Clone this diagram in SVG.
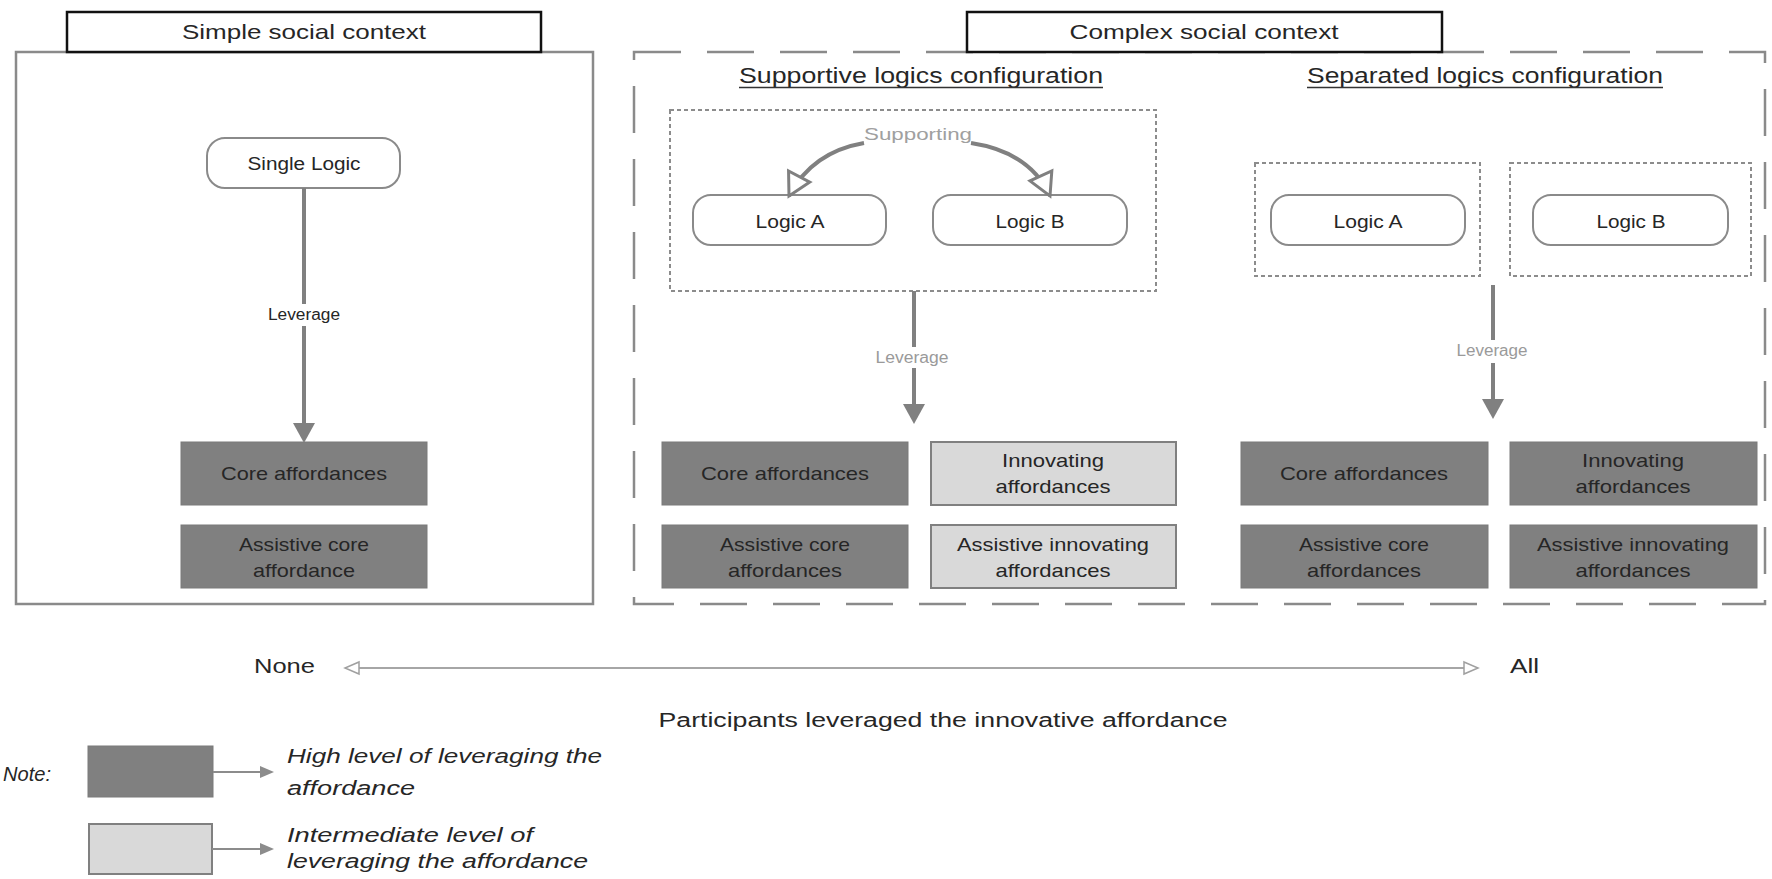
<svg xmlns="http://www.w3.org/2000/svg" width="1772" height="879" viewBox="0 0 1772 879">
  <style>
    text { font-family: "Liberation Sans", Arial, sans-serif; fill: #262626; }
    .title { font-size: 21px; }
    .head { font-size: 22px; }
    .logic { font-size: 18px; }
    .box { font-size: 19px; }
    .lev { font-size: 16px; }
    .levg { font-size: 16px; fill: #9a9a9a; }
    .sup { font-size: 17px; fill: #a0a0a0; }
    .axis { font-size: 20px; }
    .note { font-size: 20px; font-style: italic; }
    .titlebox { fill: #ffffff; stroke: #111111; stroke-width: 2.5; }
    .panel { fill: none; stroke: #8a8a8a; stroke-width: 2.5; }
    .dashpanel { fill: none; stroke: #8a8a8a; stroke-width: 2.5; stroke-dasharray: 47 26; }
    .dotted { fill: none; stroke: #8c8c8c; stroke-width: 2; stroke-dasharray: 4 3; }
    .pill { fill: #ffffff; stroke: #8a8a8a; stroke-width: 2; }
    .dark { fill: #808080; stroke: #7a7a7a; stroke-width: 1; }
    .light { fill: #d9d9d9; stroke: #808080; stroke-width: 2; }
    .conn { fill: none; stroke: #808080; stroke-width: 4; }
    .thin { fill: none; stroke: #a6a6a6; stroke-width: 2; }
    .legline { fill: none; stroke: #8c8c8c; stroke-width: 2; }
    .uline { stroke: #333333; stroke-width: 1.5; }
  </style>
  <defs>
    <marker id="solid" markerUnits="userSpaceOnUse" markerWidth="20" markerHeight="22" viewBox="0 0 19 21" refX="0" refY="10.5" orient="auto">
      <path d="M0,0 L19,10.5 L0,21 z" fill="#808080"/>
    </marker>
    <marker id="hollow" markerUnits="userSpaceOnUse" markerWidth="30" markerHeight="30" viewBox="-3 -3 30 30" refX="22" refY="12" orient="auto">
      <path d="M0,0 L22,12 L0,24 z" fill="#ffffff" stroke="#808080" stroke-width="3" stroke-linejoin="miter"/>
    </marker>
    <marker id="axisHead" markerUnits="userSpaceOnUse" markerWidth="18" markerHeight="16" viewBox="-2 -2 18 16" refX="14" refY="6" orient="auto-start-reverse">
      <path d="M0,0 L14,6 L0,12 z" fill="#ffffff" stroke="#a0a0a0" stroke-width="1.5"/>
    </marker>
    <marker id="legHead" markerUnits="userSpaceOnUse" markerWidth="14" markerHeight="12" viewBox="0 0 13 11" refX="0" refY="5.5" orient="auto">
      <path d="M0,0 L13,5.5 L0,11 z" fill="#8c8c8c"/>
    </marker>
  </defs>

  <!-- context frames -->
  <g id="simple-context">
    <rect class="panel" x="16" y="52" width="577" height="552"/>
    <rect class="titlebox" x="67" y="12" width="474" height="40"/>
    <text class="title" x="304" y="39" text-anchor="middle" textLength="244" lengthAdjust="spacingAndGlyphs">Simple social context</text>
  </g>
  <g id="complex-context">
    <rect class="dashpanel" x="634" y="52" width="1131" height="552"/>
    <rect class="titlebox" x="967" y="12" width="475" height="40"/>
    <text class="title" x="1204" y="39" text-anchor="middle" textLength="269" lengthAdjust="spacingAndGlyphs">Complex social context</text>
  </g>

  <!-- configuration headings -->
  <g id="supportive-heading">
    <text class="head" x="921" y="83" text-anchor="middle" textLength="364" lengthAdjust="spacingAndGlyphs">Supportive logics configuration</text>
    <line class="uline" x1="739" y1="87.5" x2="1103" y2="87.5"/>
  </g>
  <g id="separated-heading">
    <text class="head" x="1485" y="83" text-anchor="middle" textLength="356" lengthAdjust="spacingAndGlyphs">Separated logics configuration</text>
    <line class="uline" x1="1307" y1="87.5" x2="1663" y2="87.5"/>
  </g>

  <!-- simple context nodes -->
  <g id="single-logic">
    <rect class="pill" x="207" y="138" width="193" height="50" rx="18"/>
    <text class="logic" x="304" y="170" text-anchor="middle" textLength="113" lengthAdjust="spacingAndGlyphs">Single Logic</text>
  </g>
  <g id="simple-core">
    <rect class="dark" x="181" y="442" width="246" height="63"/>
    <text class="box" x="304" y="480" text-anchor="middle" textLength="166" lengthAdjust="spacingAndGlyphs">Core affordances</text>
  </g>
  <g id="simple-assistive-core">
    <rect class="dark" x="181" y="525" width="246" height="63"/>
    <text class="box" x="304" y="551" text-anchor="middle" textLength="130" lengthAdjust="spacingAndGlyphs">Assistive core</text>
    <text class="box" x="304" y="577" text-anchor="middle" textLength="102" lengthAdjust="spacingAndGlyphs">affordance</text>
  </g>

  <!-- supportive configuration nodes -->
  <g id="supportive-group">
    <rect class="dotted" x="670" y="110" width="486" height="181"/>
  </g>
  <g id="supportive-logic-a">
    <rect class="pill" x="693" y="195" width="193" height="50" rx="18"/>
    <text class="logic" x="790" y="228" text-anchor="middle" textLength="69" lengthAdjust="spacingAndGlyphs">Logic A</text>
  </g>
  <g id="supportive-logic-b">
    <rect class="pill" x="933" y="195" width="194" height="50" rx="18"/>
    <text class="logic" x="1030" y="228" text-anchor="middle" textLength="69" lengthAdjust="spacingAndGlyphs">Logic B</text>
  </g>
  <g id="supportive-core">
    <rect class="dark" x="662" y="442" width="246" height="63"/>
    <text class="box" x="785" y="480" text-anchor="middle" textLength="168" lengthAdjust="spacingAndGlyphs">Core affordances</text>
  </g>
  <g id="supportive-innovating">
    <rect class="light" x="931" y="442" width="245" height="63"/>
    <text class="box" x="1053" y="467" text-anchor="middle" textLength="102" lengthAdjust="spacingAndGlyphs">Innovating</text>
    <text class="box" x="1053" y="493" text-anchor="middle" textLength="115" lengthAdjust="spacingAndGlyphs">affordances</text>
  </g>
  <g id="supportive-assistive-core">
    <rect class="dark" x="662" y="525" width="246" height="63"/>
    <text class="box" x="785" y="551" text-anchor="middle" textLength="130" lengthAdjust="spacingAndGlyphs">Assistive core</text>
    <text class="box" x="785" y="577" text-anchor="middle" textLength="114" lengthAdjust="spacingAndGlyphs">affordances</text>
  </g>
  <g id="supportive-assistive-innovating">
    <rect class="light" x="931" y="525" width="245" height="63"/>
    <text class="box" x="1053" y="551" text-anchor="middle" textLength="192" lengthAdjust="spacingAndGlyphs">Assistive innovating</text>
    <text class="box" x="1053" y="577" text-anchor="middle" textLength="115" lengthAdjust="spacingAndGlyphs">affordances</text>
  </g>

  <!-- separated configuration nodes -->
  <g id="separated-group-a">
    <rect class="dotted" x="1255" y="163" width="225" height="113"/>
  </g>
  <g id="separated-group-b">
    <rect class="dotted" x="1510" y="163" width="241" height="113"/>
  </g>
  <g id="separated-logic-a">
    <rect class="pill" x="1271" y="195" width="194" height="50" rx="18"/>
    <text class="logic" x="1368" y="228" text-anchor="middle" textLength="69" lengthAdjust="spacingAndGlyphs">Logic A</text>
  </g>
  <g id="separated-logic-b">
    <rect class="pill" x="1533" y="195" width="195" height="50" rx="18"/>
    <text class="logic" x="1631" y="228" text-anchor="middle" textLength="69" lengthAdjust="spacingAndGlyphs">Logic B</text>
  </g>
  <g id="separated-core">
    <rect class="dark" x="1241" y="442" width="247" height="63"/>
    <text class="box" x="1364" y="480" text-anchor="middle" textLength="168" lengthAdjust="spacingAndGlyphs">Core affordances</text>
  </g>
  <g id="separated-innovating">
    <rect class="dark" x="1510" y="442" width="247" height="63"/>
    <text class="box" x="1633" y="467" text-anchor="middle" textLength="102" lengthAdjust="spacingAndGlyphs">Innovating</text>
    <text class="box" x="1633" y="493" text-anchor="middle" textLength="115" lengthAdjust="spacingAndGlyphs">affordances</text>
  </g>
  <g id="separated-assistive-core">
    <rect class="dark" x="1241" y="525" width="247" height="63"/>
    <text class="box" x="1364" y="551" text-anchor="middle" textLength="130" lengthAdjust="spacingAndGlyphs">Assistive core</text>
    <text class="box" x="1364" y="577" text-anchor="middle" textLength="114" lengthAdjust="spacingAndGlyphs">affordances</text>
  </g>
  <g id="separated-assistive-innovating">
    <rect class="dark" x="1510" y="525" width="247" height="63"/>
    <text class="box" x="1633" y="551" text-anchor="middle" textLength="192" lengthAdjust="spacingAndGlyphs">Assistive innovating</text>
    <text class="box" x="1633" y="577" text-anchor="middle" textLength="115" lengthAdjust="spacingAndGlyphs">affordances</text>
  </g>

  <!-- connectors -->
  <g id="connectors">
    <line class="conn" x1="304" y1="188" x2="304" y2="304"/>
    <line class="conn" x1="304" y1="326" x2="304" y2="423" marker-end="url(#solid)"/>
    <text class="lev" x="304" y="320" text-anchor="middle" textLength="72" lengthAdjust="spacingAndGlyphs">Leverage</text>

    <path class="conn" d="M864,143 Q812,152 789,196" marker-end="url(#hollow)"/>
    <path class="conn" d="M971,143 Q1030,152 1050,196" marker-end="url(#hollow)"/>
    <text class="sup" x="918" y="140" text-anchor="middle" textLength="108" lengthAdjust="spacingAndGlyphs">Supporting</text>

    <line class="conn" x1="914" y1="291" x2="914" y2="347"/>
    <line class="conn" x1="914" y1="368" x2="914" y2="404" marker-end="url(#solid)"/>
    <text class="levg" x="912" y="363" text-anchor="middle" textLength="73" lengthAdjust="spacingAndGlyphs">Leverage</text>

    <line class="conn" x1="1493" y1="285" x2="1493" y2="340"/>
    <line class="conn" x1="1493" y1="363" x2="1493" y2="399" marker-end="url(#solid)"/>
    <text class="levg" x="1492" y="356" text-anchor="middle" textLength="71" lengthAdjust="spacingAndGlyphs">Leverage</text>
  </g>

  <!-- participation scale -->
  <g id="scale">
    <line class="thin" x1="345" y1="668" x2="1478" y2="668" marker-start="url(#axisHead)" marker-end="url(#axisHead)"/>
    <text class="axis" x="254" y="673" textLength="61" lengthAdjust="spacingAndGlyphs">None</text>
    <text class="axis" x="1510" y="673" textLength="29" lengthAdjust="spacingAndGlyphs">All</text>
    <text class="axis" x="943" y="727" text-anchor="middle" textLength="569" lengthAdjust="spacingAndGlyphs">Participants leveraged the innovative affordance</text>
  </g>

  <!-- legend -->
  <g id="legend">
    <text class="note" x="3" y="781" textLength="48" lengthAdjust="spacingAndGlyphs">Note:</text>
    <rect class="dark" x="88" y="746" width="125" height="51"/>
    <line class="legline" x1="213" y1="772" x2="260" y2="772" marker-end="url(#legHead)"/>
    <text class="note" x="287" y="763" textLength="315" lengthAdjust="spacingAndGlyphs">High level of leveraging the</text>
    <text class="note" x="287" y="795" textLength="128" lengthAdjust="spacingAndGlyphs">affordance</text>
    <rect class="light" x="89" y="824" width="123" height="50"/>
    <line class="legline" x1="212" y1="849" x2="260" y2="849" marker-end="url(#legHead)"/>
    <text class="note" x="287" y="842" textLength="246" lengthAdjust="spacingAndGlyphs">Intermediate level of</text>
    <text class="note" x="287" y="868" textLength="301" lengthAdjust="spacingAndGlyphs">leveraging the affordance</text>
  </g>
</svg>
